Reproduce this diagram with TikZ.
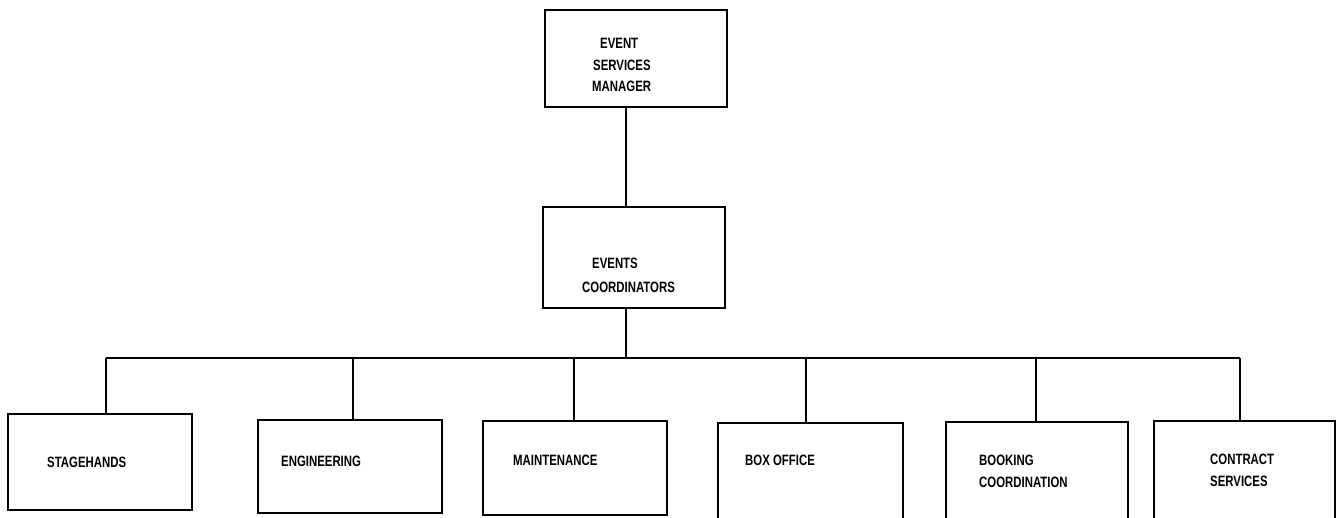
\documentclass[tikz,border=0pt]{standalone}
\usepackage{fontspec}
\usetikzlibrary{calc}
\newfontfamily\orgfont[FakeStretch=0.76]{Liberation Sans}
\begin{document}
\begin{tikzpicture}[x=1pt,y=-1pt,
  box/.style={draw, line width=1.4pt, rectangle, inner sep=0pt},
  lbl/.style={anchor=base west, font=\orgfont\bfseries\fontsize{15}{18}\selectfont, inner sep=0pt},
  wire/.style={line width=1.4pt}]
\useasboundingbox (0,0) rectangle (1342,517);
% boxes
\node[box, minimum width=182pt, minimum height=97pt]  (esm)   at (636,58.5) {};
\node[box, minimum width=182pt, minimum height=101pt] (ec)    at (634,257.5) {};
\node[box, minimum width=184pt, minimum height=96pt]  (stage) at (100,462) {};
\node[box, minimum width=184pt, minimum height=93pt]  (eng)   at (350,466.5) {};
\node[box, minimum width=184pt, minimum height=94pt]  (maint) at (575,468) {};
\node[box, minimum width=185pt, minimum height=97pt]  (boxo)  at (810.5,471.5) {};
\node[box, minimum width=182pt, minimum height=98pt]  (book)  at (1037,471) {};
\node[box, minimum width=181pt, minimum height=99pt]  (contr) at (1244.5,470.5) {};
% labels
\node[lbl] (t1) at (600,48.5) {EVENT};
\node[lbl] (t2) at (593,70) {SERVICES};
\node[lbl] (t3) at (592,91.5) {MANAGER};
\node[lbl] (t4) at (592,268.5) {EVENTS};
\node[lbl] (t5) at (582,292.5) {COORDINATORS};
\node[lbl] (t6) at (47,467.5) {STAGEHANDS};
\node[lbl] (t7) at (281,466.5) {ENGINEERING};
\node[lbl] (t8) at (513,465.5) {MAINTENANCE};
\node[lbl] (t9) at (745,465.5) {BOX OFFICE};
\node[lbl] (t10) at (979,465.5) {BOOKING};
\node[lbl] (t11) at (979,487.5) {COORDINATION};
\node[lbl] (t12) at (1210,464.5) {CONTRACT};
\node[lbl] (t13) at (1210,486) {SERVICES};
% connectors
\coordinate (bus) at (626,358);
\coordinate (c1) at ($(stage.north)+(6,0)$);
\coordinate (c2) at ($(eng.north)+(3,0)$);
\coordinate (c3) at ($(maint.north)+(-1,0)$);
\coordinate (c4) at ($(boxo.north)+(-4.5,0)$);
\coordinate (c5) at ($(book.north)+(-1,0)$);
\coordinate (c6) at ($(contr.north)+(-4.5,0)$);
\draw[wire] (esm.south -| bus) -- (ec.north -| bus);
\draw[wire] (ec.south -| bus) -- (bus);
\draw[wire] (c1 |- bus) -- (c6 |- bus);
\foreach \c in {c1,c2,c3,c4,c5,c6}
  \draw[wire] (\c |- bus) -- (\c);
\end{tikzpicture}
\end{document}
